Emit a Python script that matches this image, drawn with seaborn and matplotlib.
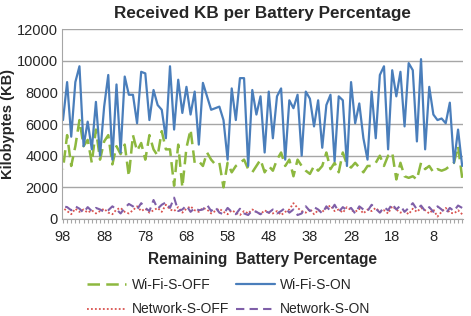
import numpy as np
import pandas as pd
import matplotlib
matplotlib.use("Agg")
from matplotlib import pyplot as plt
from matplotlib.ticker import MultipleLocator
import seaborn as sns

battery = list(range(98, 0, -1))

wifi_off = [3150, 5300, 3350, 4600, 6250, 4600, 5000, 3550, 5650, 3750,
            4900, 5300, 3450, 4600, 4100, 4700, 2700, 5300, 4300, 4800,
            3750, 5300, 4400, 4000, 5550, 4400, 4400, 2100, 4700, 2000,
            4500, 5650, 3550, 3650, 3350, 4200, 3750, 3450, 3550, 2000,
            3550, 2950, 3350, 3550, 3750, 3150, 2950, 3350, 3750, 2950,
            3350, 3050, 3750, 4200, 3350, 3750, 2700, 3750, 3350, 3050,
            2850, 3350, 3050, 3350, 4200, 3150, 3550, 2950, 4200, 3450,
            3250, 3550, 3250, 2950, 3350, 3350, 3550, 4000, 3350, 4000,
            4200, 2500, 3550, 2700, 2600, 2700, 2500, 3550, 3150, 3350,
            2950, 3150, 3050, 3150, 3350, 3550, 4600, 2600]

wifi_on = [6250, 8650, 5200, 8650, 9650, 4600, 6150, 4400, 7400, 4000,
           7100, 9100, 3750, 8500, 4200, 9000, 7850, 7850, 6050, 9300,
           9200, 6250, 8150, 7200, 6900, 5100, 9650, 5650, 8800, 6700,
           8350, 6600, 8050, 4700, 8600, 7750, 6900, 7000, 7100, 6250,
           3750, 8250, 6250, 8900, 8900, 3350, 8150, 6600, 7750, 4200,
           8050, 5100, 7750, 8250, 3750, 7500, 7000, 7850, 4000, 8050,
           7600, 5850, 7500, 4500, 7200, 7850, 3650, 7750, 7500, 3350,
           8650, 6050, 7300, 5100, 3750, 8050, 5100, 9100, 9650, 4400,
           9400, 7750, 9300, 5850, 9850, 9400, 4900, 10100, 4400, 8350,
           6600, 6250, 6350, 6050, 7350, 3550, 5650, 3350]

net_off = [700, 500, 300, 650, 450, 600, 400, 550, 350, 500,
           650, 400, 300, 600, 700, 450, 350, 550, 800, 500,
           650, 400, 550, 700, 450, 900, 600, 500, 750, 400,
           650, 800, 550, 450, 700, 600, 350, 500, 650, 450,
           300, 550, 400, 250, 500, 350, 600, 450, 300, 550,
           400, 350, 500, 250, 450, 600, 1000, 700, 500, 400,
           650, 300, 550, 450, 700, 850, 500, 600, 400, 750,
           550, 450, 650, 350, 600, 500, 700, 450, 550, 350,
           800, 600, 400, 500, 300, 650, 450, 700, 550, 350,
           600, 150, 450, 700, 400, 350, 550, 300]

net_on = [800, 750, 550, 800, 650, 400, 750, 500, 700, 600,
          450, 550, 800, 600, 350, 700, 950, 800, 600, 1000,
          700, 500, 1200, 650, 900, 1050, 700, 1350, 500, 600,
          850, 450, 700, 550, 600, 900, 500, 750, 400, 300,
          700, 450, 300, 650, 350, 250, 550, 450, 300, 500,
          400, 600, 350, 500, 700, 400, 600, 250, 350, 800,
          500, 750, 600, 350, 800, 500, 900, 450, 750, 550,
          700, 350, 800, 600, 500, 900, 650, 400, 750, 550,
          950, 600, 850, 450, 700, 1000, 600, 850, 500, 750,
          450, 800, 600, 350, 700, 500, 850, 700]

sns.set_style("white")
plt.rcParams['font.family'] = ['Liberation Sans', 'DejaVu Sans']

fig = plt.figure(figsize=(4.71, 3.16), dpi=100)
ax = fig.add_axes([0.132, 0.307, 0.851, 0.601])

sns.lineplot(x=battery, y=wifi_off, ax=ax, color="#8DB83F", lw=1.8,
             linestyle=(0, (5, 2.5)), label="Wi-Fi-S-OFF")
sns.lineplot(x=battery, y=wifi_on, ax=ax, color="#4A7EBB", lw=1.6,
             label="Wi-Fi-S-ON")
sns.lineplot(x=battery, y=net_off, ax=ax, color="#D9534F", lw=1.3,
             linestyle=(0, (1, 1.2)), label="Network-S-OFF")
sns.lineplot(x=battery, y=net_on, ax=ax, color="#7F5FA8", lw=1.5,
             linestyle=(0, (4, 2.5)), label="Network-S-ON")

ax.set_xlim(98.2, 0.8)
ax.set_ylim(0, 12000)
ax.set_xticks(list(range(98, 0, -10)))
ax.xaxis.set_minor_locator(MultipleLocator(1))
ax.set_yticks(range(0, 12001, 2000))
ax.yaxis.grid(True, color="#A6A6A6", lw=1.0)
ax.set_axisbelow(True)

for side in ["top", "right"]:
    ax.spines[side].set_visible(False)
for side in ["left", "bottom"]:
    ax.spines[side].set_color("#A6A6A6")

ax.tick_params(axis="x", which="minor", length=3, color="#A6A6A6", width=0.8,
               direction="out", bottom=True)
ax.tick_params(axis="x", which="major", length=3, color="#A6A6A6",
               labelsize=10.5, pad=5, bottom=True)
ax.tick_params(axis="y", length=0, labelsize=10.5, pad=3)

ax.set_xlabel("Remaining  Battery Percentage", fontsize=11.2,
              fontweight="bold", labelpad=6)
ax.set_ylabel("Kilobyptes (KB)", fontsize=10.5, fontweight="bold",
              labelpad=1)
ax.set_title("Received KB per Battery Percentage", fontsize=12.3,
             fontweight="bold", pad=8)

handles, labels = ax.get_legend_handles_labels()
order = [0, 2, 1, 3]
ax.legend([handles[i] for i in order], [labels[i] for i in order],
          loc="upper center", bbox_to_anchor=(0.416, -0.245), ncol=2,
          frameon=False, fontsize=10, handlelength=2.8,
          columnspacing=0.5, labelspacing=0.75, handletextpad=0.4)

fig.savefig("out.png", dpi=100)
